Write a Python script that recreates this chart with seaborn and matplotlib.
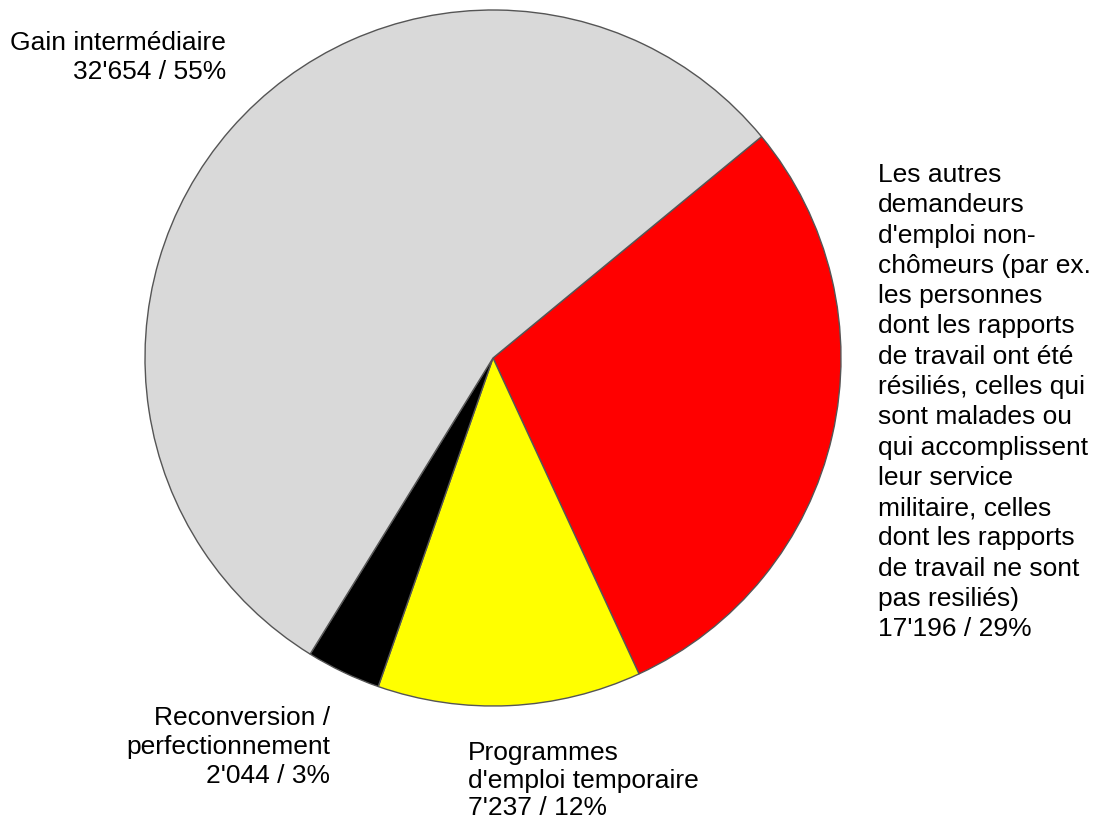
import matplotlib
matplotlib.use("Agg")
import matplotlib.pyplot as plt
import seaborn as sns

sns.set_style("white")
plt.rcParams['font.family'] = ['Liberation Sans', 'DejaVu Sans']

# données (ordre horaire à partir de la tranche rouge)
categories = [
    "Les autres\ndemandeurs\nd'emploi non-\nchômeurs (par ex.\nles personnes\ndont les rapports\nde travail ont été\nrésiliés, celles qui\nsont malades ou\nqui accomplissent\nleur service\nmilitaire, celles\ndont les rapports\nde travail ne sont\npas resiliés)",
    "Programmes\nd'emploi temporaire",
    "Reconversion /\nperfectionnement",
    "Gain intermédiaire",
]
valeurs = [17196, 7237, 2044, 32654]
pourcents = [29, 12, 3, 55]
couleurs = ["#ff0000", "#ffff00", "#000000", "#d9d9d9"]

fig = plt.figure(figsize=(10.96, 8.23), dpi=100)
# axe carré : centre (493,358) px, rayon 348 px
ax = fig.add_axes([145 / 1096, 117 / 823, 696 / 1096, 696 / 823])
ax.pie(valeurs, colors=couleurs, startangle=39.5, counterclock=False,
       wedgeprops=dict(edgecolor="#555555", linewidth=1.0))
ax.set_xlim(-1, 1)
ax.set_ylim(-1, 1)
ax.set_aspect("equal")
ax.axis("off")

def fmt(v):
    return f"{v:,}".replace(",", "'")

# positions des étiquettes (coordonnées du cercle unité) + interligne
pos = [(1.106, 0.56, "left", 1.33), (-0.072, -1.10, "left", 1.2),
       (-0.468, -0.999, "right", 1.27), (-0.767, 0.941, "right", 1.3)]
for cat, v, p, (x, y, ha, ls) in zip(categories, valeurs, pourcents, pos):
    ax.text(x, y, f"{cat}\n{fmt(v)} / {p}%", ha=ha, va="top",
            multialignment=ha, fontsize=19, linespacing=ls,
            color="black", clip_on=False)

fig.savefig("out.png", dpi=100)
